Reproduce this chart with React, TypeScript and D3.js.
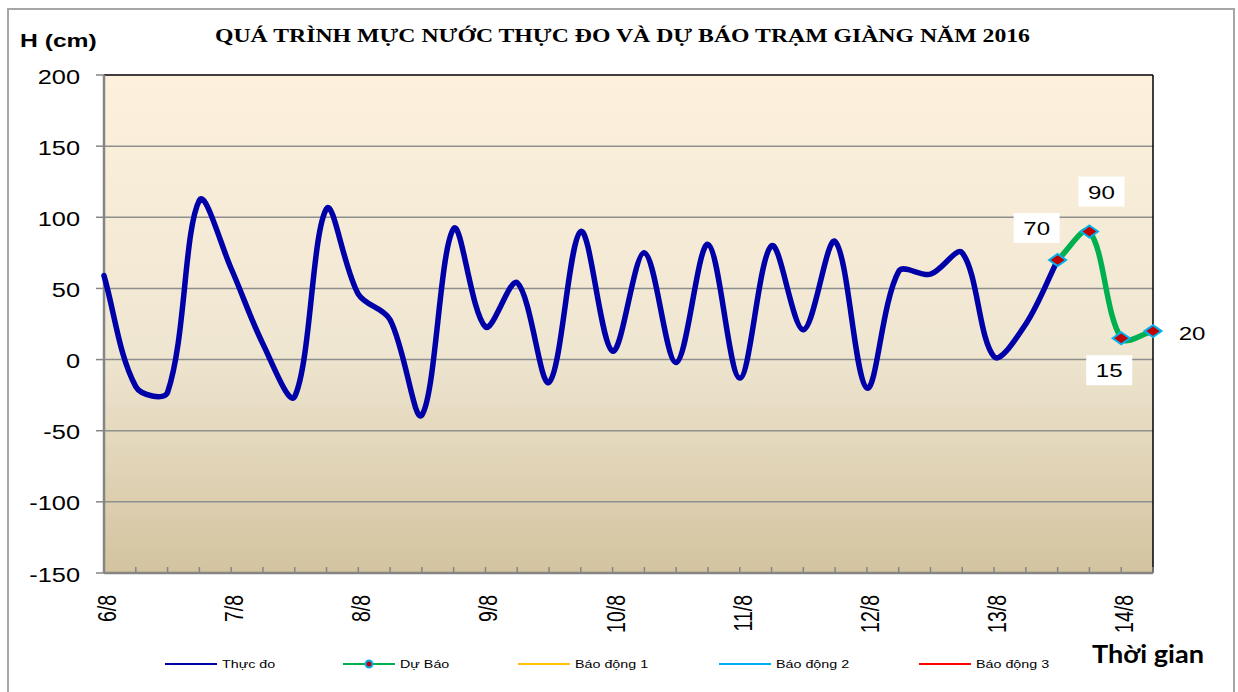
import React from "react";
import * as d3 from "d3";

// ---------- data ----------
const dayLabels = ["6/8", "7/8", "8/8", "9/8", "10/8", "11/8", "12/8", "13/8", "14/8"];
const STEPS_PER_DAY = 4; // observations every 6 hours
const observed = [
  59, -19, -23, 112, 64, 11, -26, 106, 46, 28, -39, 92, 23, 54, -16, 90,
  6, 75, -2, 81, -13, 80, 21, 83, -20, 62, 60, 75, 2, 25, 70,
];
const forecast = [70, 90, 15, 20];
const forecastStart = observed.length - 1;
const yTicks = [-150, -100, -50, 0, 50, 100, 150, 200];
const titleText = "QUÁ TRÌNH MỰC NƯỚC THỰC ĐO VÀ DỰ BÁO TRẠM GIÀNG  NĂM 2016";
const yTitle = "H (cm)";
const xTitle = "Thời gian";
const legendItems = [
  { label: "Thực đo", color: "#0000A8", marker: false },
  { label: "Dự Báo", color: "#00B050", marker: true },
  { label: "Báo động 1", color: "#FFC000", marker: false },
  { label: "Báo động 2", color: "#00B0F0", marker: false },
  { label: "Báo động 3", color: "#FF0000", marker: false },
];

// ---------- layout / style ----------
const W = 1238;
const H = 692;
const SX = 1.3; // horizontal stretch of all text in the reference
const plot = { left: 104, right: 1153, top: 75, bottom: 573 };
const labelOffsets: [number, number][] = [[-21, -32], [12, -40], [-12, 32], [39, 2]];
const labelBoxed = [true, true, true, false];
const legendX = [165, 343, 518, 719, 919];
const legendY = 664;

type STextProps = {
  x: number; y: number; rot?: number; anchor?: string; size: number;
  weight?: string | number; family?: string; fill?: string; len?: number; children: React.ReactNode;
};
function SText({ x, y, rot, anchor = "start", size, weight = "normal", family = "Arial, 'Liberation Sans', sans-serif", fill = "#000", len, children }: STextProps) {
  return (
    <text
      transform={`translate(${x},${y}) scale(${SX},1)${rot ? ` rotate(${rot})` : ""}`}
      textAnchor={anchor}
      fontSize={size}
      fontWeight={weight}
      fontFamily={family}
      fill={fill}
      {...(len ? { textLength: len, lengthAdjust: "spacingAndGlyphs" } : {})}
    >
      {children}
    </text>
  );
}

// Excel-like smoothed line: Bezier with tangents weighted by adjacent segment lengths
function smoothPath(pts: [number, number][]) {
  const p = d3.path();
  const n = pts.length;
  if (!n) return "";
  const dist = (a: [number, number], b: [number, number]) => Math.hypot(b[0] - a[0], b[1] - a[1]);
  const ctrl = (i: number) => {
    const prev = pts[Math.max(0, i - 1)];
    const next = pts[Math.min(n - 1, i + 1)];
    const d1 = dist(prev, pts[i]);
    const d2 = dist(pts[i], next);
    const tx = next[0] - prev[0];
    const ty = next[1] - prev[1];
    const s = d1 + d2 || 1;
    return {
      inC: [pts[i][0] - (tx * d1) / s / 3, pts[i][1] - (ty * d1) / s / 3],
      outC: [pts[i][0] + (tx * d2) / s / 3, pts[i][1] + (ty * d2) / s / 3],
    };
  };
  p.moveTo(pts[0][0], pts[0][1]);
  for (let i = 0; i < n - 1; i++) {
    const a = ctrl(i).outC;
    const b = ctrl(i + 1).inC;
    p.bezierCurveTo(a[0], a[1], b[0], b[1], pts[i + 1][0], pts[i + 1][1]);
  }
  return p.toString();
}

export default function App() {
  const nPts = forecastStart + forecast.length;
  const x = d3.scaleLinear().domain([0, nPts - 1]).range([plot.left, plot.right]);
  const y = d3.scaleLinear().domain([-150, 200]).range([plot.bottom, plot.top]);

  const obsPts: [number, number][] = observed.map((v, i) => [x(i), y(v)]);
  const fcPts: [number, number][] = forecast.map((v, i) => [x(forecastStart + i), y(v)]);

  const diamond = (cx: number, cy: number, hw: number, hh: number) =>
    `M${cx},${cy - hh}L${cx + hw},${cy}L${cx},${cy + hh}L${cx - hw},${cy}Z`;

  return (
    <svg width={W} height={H} style={{ position: "absolute", left: 0, top: 0, background: "#fff" }}>
      <defs>
        <linearGradient id="bg" x1="0" y1="0" x2="0" y2="1">
          <stop offset="0%" stopColor="#FDF1DD" />
          <stop offset="55%" stopColor="#EFE6D1" />
          <stop offset="100%" stopColor="#D3C39F" />
        </linearGradient>
      </defs>
      {/* outer frame */}
      <rect x={8} y={9} width={1226} height={700} fill="#fff" stroke="#A6A6A6" strokeWidth={2} />

      {/* plot background */}
      <rect x={plot.left} y={plot.top} width={plot.right - plot.left} height={plot.bottom - plot.top} fill="url(#bg)" />

      {/* gridlines */}
      {yTicks.filter((t) => t > -150 && t < 200).map((t) => (
        <line key={"g" + t} x1={plot.left} x2={plot.right} y1={y(t)} y2={y(t)} stroke="#8E8E8E" strokeWidth={1.5} />
      ))}

      {/* border top/right */}
      <line x1={plot.left} x2={plot.right} y1={plot.top} y2={plot.top} stroke="#000" strokeWidth={1.5} />
      <line x1={plot.right} x2={plot.right} y1={plot.top} y2={plot.bottom} stroke="#000" strokeWidth={1.5} />

      {/* y axis */}
      <line x1={plot.left} x2={plot.left} y1={plot.top} y2={plot.bottom} stroke="#858585" strokeWidth={2.5} />
      {yTicks.map((t) => (
        <g key={"yt" + t}>
          <line x1={96} x2={plot.left} y1={y(t)} y2={y(t)} stroke="#858585" strokeWidth={1.5} />
          <SText x={80} y={y(t) + 8.5} anchor="end" size={19.5}>{t}</SText>
        </g>
      ))}

      {/* x axis */}
      <line x1={plot.left} x2={plot.right} y1={plot.bottom} y2={plot.bottom} stroke="#858585" strokeWidth={2.5} />
      {d3.range(1, nPts).map((i) => (
        <line key={"xt" + i} x1={x(i)} x2={x(i)} y1={plot.bottom} y2={plot.bottom - 6} stroke="#858585" strokeWidth={1.5} />
      ))}
      {dayLabels.map((lab, k) => (
        <SText key={"xl" + k} x={x(k * STEPS_PER_DAY) + 12} y={595} rot={-90} anchor="end" size={19.5}>{lab}</SText>
      ))}

      {/* series */}
      <path d={smoothPath(obsPts)} fill="none" stroke="#0000A8" strokeWidth={5.5} strokeLinejoin="round" strokeLinecap="round" />
      <path d={smoothPath(fcPts)} fill="none" stroke="#00B050" strokeWidth={5.5} strokeLinejoin="round" strokeLinecap="round" />
      {fcPts.map(([px, py], k) => (
        <path key={"m" + k} d={diamond(px, py, 8.5, 6)} fill="#C00000" stroke="#00B0F0" strokeWidth={2} />
      ))}

      {/* data labels */}
      {fcPts.map(([px, py], k) => {
        const cx = px + labelOffsets[k][0];
        const cy = py + labelOffsets[k][1];
        return (
          <g key={"dl" + k}>
            {labelBoxed[k] && <rect x={cx - 23} y={cy - 15} width={46} height={30} fill="#fff" />}
            <SText x={cx} y={cy + 7} anchor="middle" size={18.5}>{forecast[k]}</SText>
          </g>
        );
      })}

      {/* titles */}
      <SText x={215} y={42} size={18} weight="bold" family="'Times New Roman', 'Liberation Serif', serif" len={815 / SX}>{titleText}</SText>
      <SText x={20} y={47} size={19} weight="bold">{yTitle}</SText>
      <SText x={1092} y={663} size={24} weight="bold" family="Lato, 'Open Sans', sans-serif" len={112 / SX}>{xTitle}</SText>

      {/* legend */}
      {legendItems.map((it, k) => (
        <g key={"lg" + k}>
          <line x1={legendX[k]} x2={legendX[k] + 52} y1={legendY} y2={legendY} stroke={it.color} strokeWidth={2} />
          {it.marker && <circle cx={legendX[k] + 26} cy={legendY} r={3.5} fill="#C00000" stroke="#00B0F0" strokeWidth={2} />}
          <SText x={legendX[k] + 57} y={legendY + 4} size={11}>{it.label}</SText>
        </g>
      ))}
    </svg>
  );
}
